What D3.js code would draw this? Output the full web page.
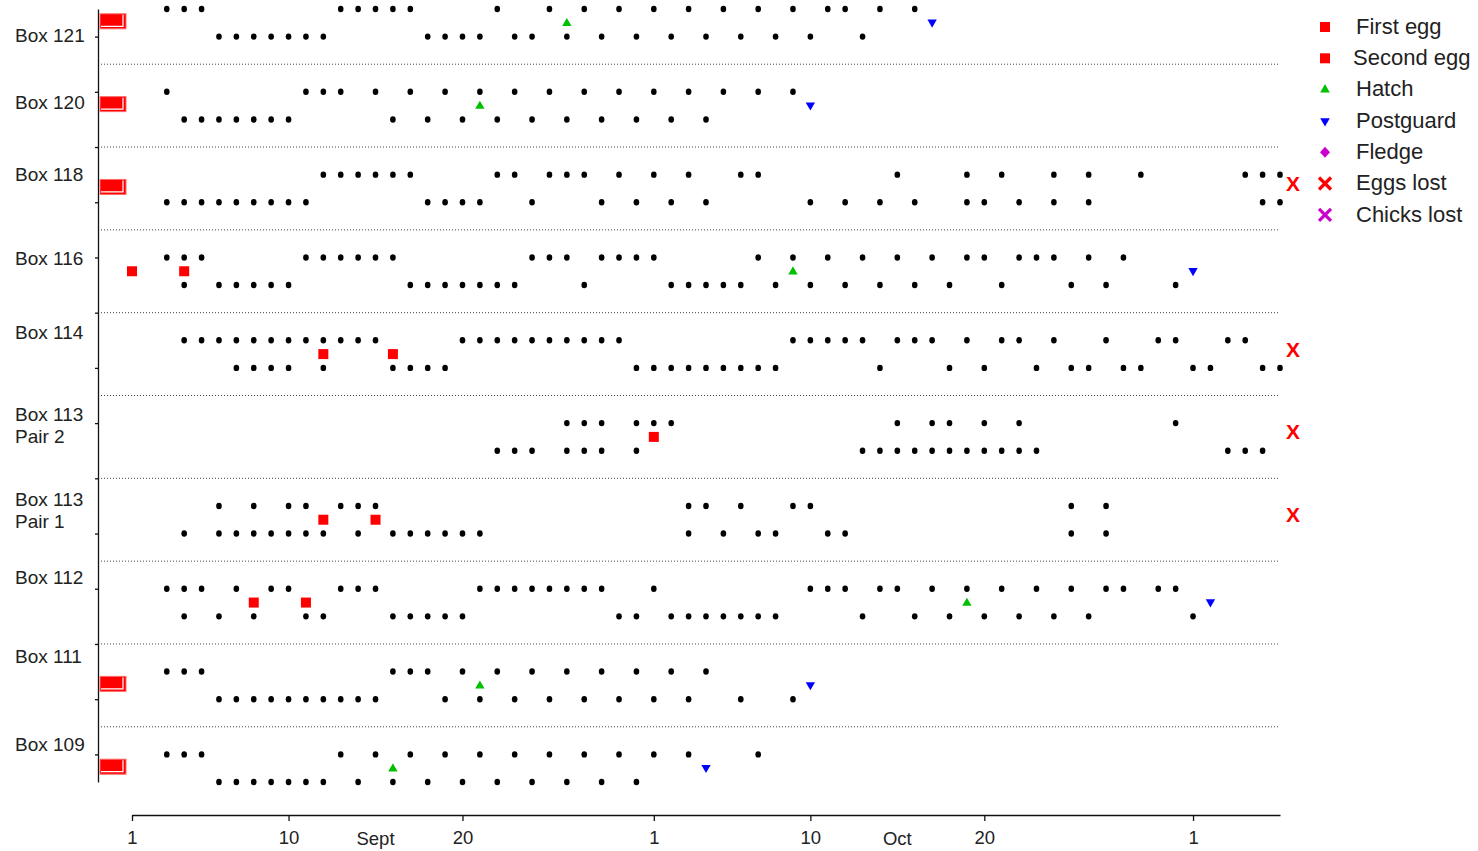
<!DOCTYPE html>
<html>
<head>
<meta charset="utf-8">
<script src="https://cdn.jsdelivr.net/npm/d3@7"></script>
<style>
  html, body { margin: 0; padding: 0; background: #fff; }
  svg { display: block; font-family: "Liberation Sans", Arial, sans-serif; }
</style>
</head>
<body>
<svg id="chart" width="1478" height="851"></svg>
<script>
// ---------------- DATA ----------------
const boxes = ["Box 121", "Box 120", "Box 118", "Box 116", "Box 114",
               "Box 113|Pair 2", "Box 113|Pair 1", "Box 112", "Box 111", "Box 109"];

// days since 1 Sept (1 = Sept 1, 31 = Oct 1, 62 = Nov 1)
const upperDays = [
  [3,4,5,13,14,15,16,17,22,25,27,29,31,33,35,37,39,41,42,44,46],
  [3,11,12,13,15,17,19,21,23,25,27,29,31,33,35,37,39],
  [12,13,14,15,16,17,22,23,25,26,27,29,31,33,36,37,45,49,51,54,56,59,65,66,67],
  [3,4,5,11,12,13,14,15,16,24,25,26,28,29,30,31,37,39,41,43,45,47,49,50,52,53,54,56,58],
  [4,5,6,7,8,9,10,11,12,13,14,15,20,21,22,23,24,25,26,27,28,29,39,40,41,42,43,45,46,47,49,51,52,54,57,60,61,64,65],
  [26,27,28,30,31,32,45,47,48,50,52,61],
  [6,8,10,11,13,14,15,33,34,36,39,40,55,57],
  [3,4,5,7,9,10,13,14,15,21,22,23,24,25,26,27,28,31,40,41,42,44,45,47,49,51,53,55,57,58,60,61],
  [3,4,5,16,17,18,20,22,24,26,28,30,32,34],
  [3,4,5,13,15,17,19,21,23,25,27,29,31,33,37]
];
const lowerDays = [
  [6,7,8,9,10,11,12,18,19,20,21,23,24,26,28,30,32,34,36,38,40,43],
  [4,5,6,7,8,9,10,16,18,20,22,24,26,28,30,32,34],
  [3,4,5,6,7,8,9,10,11,18,19,20,21,24,28,30,32,34,40,42,44,46,49,50,52,54,56,66,67],
  [4,6,7,8,9,10,17,18,19,20,21,22,23,27,32,33,34,35,36,38,40,42,44,46,48,51,55,57,61],
  [7,8,9,10,12,16,17,18,19,30,31,32,33,34,35,36,37,38,44,48,50,53,55,56,58,59,62,63,66,67],
  [22,23,24,26,27,28,30,43,44,45,46,47,48,49,50,51,52,53,64,65,66],
  [4,6,7,8,9,10,11,12,14,16,17,18,19,20,21,33,35,37,38,41,42,55,57],
  [4,6,8,11,12,16,17,18,19,20,29,30,32,33,34,35,36,37,38,43,46,48,50,52,54,56,62],
  [6,7,8,9,10,11,12,13,14,15,19,21,23,25,27,29,31,33,36,39],
  [6,7,8,9,10,11,12,14,16,18,20,22,24,26,28,30]
];
// 0 = laid before observations began, null = none
const firstEgg  = [0, 0, 0, 1, 12, 31, 12, 8, 0, 0];
const secondEgg = [0, 0, 0, 4, 16, null, 15, 11, 0, 0];
const hatch     = [26, 21, null, 39, null, null, null, 49, 21, 16];
const postguard = [47, 40, null, 62, null, null, null, 63, 40, 34];
const eggsLost  = [false, false, true, false, true, true, true, false, false, false];

const tickDays   = [1, 10, 20, 31, 40, 50, 62];
const tickLabels = ["1", "10", "20", "1", "10", "20", "1"];
const monthDays  = [15, 45];
const monthNames = ["Sept", "Oct"];

const legendLabels = ["First egg", "Second egg", "Hatch", "Postguard", "Fledge", "Eggs lost", "Chicks lost"];

// ---------------- LAYOUT ----------------
const labelShift = [1.0, 0.44, 0.05, 0.09, -0.22, 0.14, 0.22, -0.35, -0.5, -0.3];
const svg = d3.select("#chart");
const x = d3.scaleLinear().domain([1, 67]).range([132, 1280]);
const y = d3.scaleLinear().domain([0, 28]).range([9, 782]);
const textColor = "#222";

// separators
const sepUnits = d3.range(boxes.length - 1).map(i => i * 3 + 2);
svg.append("g").selectAll("line").data(sepUnits).join("line")
  .attr("x1", 98).attr("x2", x(67))
  .attr("y1", d => y(d)).attr("y2", d => y(d))
  .attr("stroke", "#444").attr("stroke-width", 1)
  .attr("stroke-dasharray", "1,2");

// y axis
const yAxis = d3.axisLeft(y)
  .tickValues(d3.range(1, 28, 2))
  .tickFormat("")
  .tickSize(3).tickSizeOuter(0);
svg.append("g").attr("transform", "translate(98,0)").call(yAxis)
  .call(g => g.selectAll("path,line").attr("stroke", "#111").attr("stroke-width", 1.3));

// x axis
const xAxis = d3.axisBottom(x)
  .tickValues(tickDays)
  .tickFormat((d, i) => tickLabels[i])
  .tickSize(6).tickSizeOuter(0);
const gx = svg.append("g").attr("transform", "translate(0,815)").call(xAxis);
gx.selectAll("path,line").attr("stroke", "#111").attr("stroke-width", 1.3);
gx.selectAll("text").attr("font-size", 18.5).attr("fill", textColor)
  .attr("font-family", "Liberation Sans, Arial, sans-serif").attr("dy", "1.1em");
svg.append("g").selectAll("text").data(monthDays).join("text")
  .attr("x", d => x(d)).attr("y", 845)
  .attr("text-anchor", "middle").attr("font-size", 18.5).attr("fill", textColor)
  .text((d, i) => monthNames[i]);

// box labels
boxes.forEach((b, i) => {
  const lines = b.split("|");
  const cy = y(i * 3 + labelShift[i]);
  const t = svg.append("text").attr("x", 15).attr("font-size", 19).attr("fill", textColor);
  lines.forEach((ln, j) => {
    t.append("tspan").attr("x", 15)
      .attr("y", cy + (j - (lines.length - 1) / 2) * 22)
      .attr("dominant-baseline", "middle").text(ln);
  });
});

// observation dots
const dotG = svg.append("g");
boxes.forEach((b, i) => {
  [[upperDays[i], 0], [lowerDays[i], 1]].forEach(([days, r]) => {
    dotG.selectAll(null).data(days).join("ellipse")
      .attr("cx", d => x(d)).attr("cy", y(i * 3 + r))
      .attr("rx", 2.8).attr("ry", 3.2).attr("fill", "#000");
  });
});

const mid = i => y(i * 3 + 0.5);
const tri = d3.symbol().type(d3.symbolTriangle).size(38);

// events
boxes.forEach((b, i) => {
  if (firstEgg[i] === 0) {
    const cy = mid(i) - 1.5;
    svg.append("rect").attr("x", x(1) - 32).attr("y", cy - 7.5)
      .attr("width", 26).attr("height", 15)
      .attr("fill", "#ff0000").attr("stroke", "#ff6a6a").attr("stroke-width", 1);
    svg.append("path")
      .attr("d", `M${x(1) - 31},${cy + 5} H${x(1) - 9} V${cy - 6.5}`)
      .attr("fill", "none").attr("stroke", "#fff").attr("stroke-width", 1.2);
  } else if (firstEgg[i] != null) {
    [firstEgg[i], secondEgg[i]].filter(d => d != null).forEach(d => {
      svg.append("rect").attr("x", x(d) - 5).attr("y", mid(i) - 5)
        .attr("width", 10).attr("height", 10).attr("fill", "#ff0000");
    });
  }
  if (hatch[i] != null) {
    svg.append("path").attr("d", tri)
      .attr("transform", `translate(${x(hatch[i])},${mid(i) + 0.5})`)
      .attr("fill", "#00c000");
  }
  if (postguard[i] != null) {
    svg.append("path").attr("d", tri)
      .attr("transform", `translate(${x(postguard[i])},${mid(i) - 0.5}) rotate(180)`)
      .attr("fill", "#0000ff");
  }
  if (eggsLost[i]) {
    svg.append("text").attr("x", x(67.75)).attr("y", mid(i) - 3)
      .attr("text-anchor", "middle").attr("dominant-baseline", "middle")
      .attr("font-size", 21).attr("font-weight", "bold").attr("fill", "#ff0000").text("X");
  }
});

// legend
const lg = svg.append("g");
const lx = 1325, ly0 = 27, ldy = 31.3;
const legendMarkers = [
  g => g.append("rect").attr("x", -5).attr("y", -5).attr("width", 10).attr("height", 10).attr("fill", "#ff0000"),
  g => g.append("rect").attr("x", -5).attr("y", -5).attr("width", 10).attr("height", 10).attr("fill", "#ff0000"),
  g => g.append("path").attr("d", d3.symbol().type(d3.symbolTriangle).size(40)).attr("fill", "#00c000"),
  g => g.append("path").attr("d", d3.symbol().type(d3.symbolTriangle).size(40)).attr("transform", "rotate(180)").attr("fill", "#0000ff"),
  g => g.append("path").attr("d", "M0,-5.5 L5,0 L0,5.5 L-5,0 Z").attr("fill", "#cc00cc"),
  g => g.append("path").attr("d", "M-6,-6 L6,6 M6,-6 L-6,6").attr("stroke", "#ff0000").attr("stroke-width", 3.2),
  g => g.append("path").attr("d", "M-6,-6 L6,6 M6,-6 L-6,6").attr("stroke", "#cc00cc").attr("stroke-width", 3.2)
];
legendLabels.forEach((lab, i) => {
  const g = lg.append("g").attr("transform", `translate(${lx},${ly0 + i * ldy})`);
  legendMarkers[i](g);
  lg.append("text").attr("x", i === 1 ? 1353 : 1356).attr("y", ly0 + i * ldy + 1)
    .attr("dominant-baseline", "middle").attr("font-size", 22).attr("fill", textColor)
    .text(lab);
});
</script>
</body>
</html>
